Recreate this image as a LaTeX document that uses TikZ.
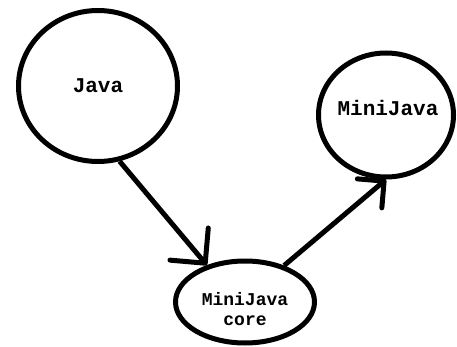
\documentclass[tikz,border=0pt]{standalone}
\usepackage{fontspec}
\usepackage{tikz}
\usetikzlibrary{shapes.geometric, arrows.meta}
\newfontfamily\courierfont{Liberation Mono}
\newcommand{\bigcourier}{\courierfont\bfseries\fontsize{21}{25}\selectfont}
\newcommand{\smallcourier}{\courierfont\bfseries\fontsize{18}{20}\selectfont}

\begin{document}
\begin{tikzpicture}[x=1pt, y=-1pt, line width=5pt,
    bubble/.style={draw, ellipse, inner sep=0pt},
    link/.style={-{Straight Barb[length=25pt, width=50pt, round]}}]
        \useasboundingbox (0, 0) rectangle (457, 347);

        % Languages
        \node[bubble, minimum width=159pt, minimum height=151pt, font=\bigcourier] (java) at (98, 86) {Java};
        \node[bubble, minimum width=135pt, minimum height=124pt,
              label={[font=\bigcourier, xshift=2pt, yshift=7pt]center:MiniJava}] (minijava) at (386, 115) {};

        % Shared core
        \node[bubble, minimum width=139pt, minimum height=82pt,
              label={[font=\smallcourier, align=center, yshift=-7pt]center:MiniJava\\core}] (core) at (245, 302) {};

        % Links
        \draw[link] (java.-74) -- (core.136);
        \draw[-{Straight Barb[length=19pt, width=38pt, round]}] (core.43) -- (minijava.-90);

    \end{tikzpicture}
\end{document}
